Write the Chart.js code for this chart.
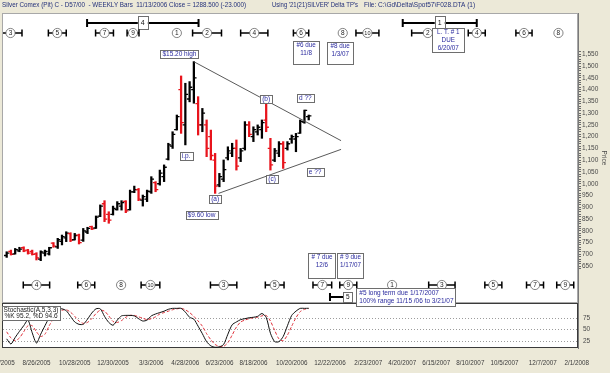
<!DOCTYPE html>
<html>
<head>
<meta charset="utf-8">
<script src="https://cdn.jsdelivr.net/npm/chart.js@4.4.1/dist/chart.umd.min.js"></script>
<style>
  html, body { margin: 0; padding: 0; background: #ece9d8; overflow: hidden; }
  canvas { display: block; }
</style>
</head>
<body>
<canvas id="c" width="610" height="373"></canvas>
<script>
// weekly bars, x = weeks from 8/26/2005
const barWeeks = [-7,-6,-5,-4,-3,-2,-1,0,1,2,3,4,5,6,7,8,9,10,11,12,13,14,15,16,17,18,19,20,21,22,
  23,24,25,26,27,28,29,30,31,32,33,34,35,36,37,38,39,40,41,42,43,44,45,46,47,48,49,50,51,52,
  53,54,55,56,57,58,59,60,61,62,63,64];
const opens = [695,712,702,715,728,718,712,702,680,705, 702,748,732,755,770,788,762,782,760,795,
  818,812,862,915,870,870,890,905,925,890, 965,975,930,935,965,1005,1000,1030,1105,1160,
  1230,1400,1250,1360,1400,1340,1250,1250,1200,1100, 995,1020,1110,1130,1150,1110,1150,1250,1200,1220,
  1230,1270,1150,1100,1130,1170,1150,1190,1190,1215,1262,1285];
const highs = [711,718,725,730,732,721,718,707,715,718, 730,750,768,782,796,792,789,786,810,815,
  820,863,910,928,881,905,924,928,928,973, 990,980,952,973,1030,1009,1058,1080,1172,1221,
  1292,1458,1427,1434,1519,1370,1320,1271,1228,1129, 1044,1101,1157,1172,1186,1150,1264,1264,1242,1250,
  1271,1342,1193,1150,1179,1179,1179,1207,1214,1271,1313,1292];
const lows = [687,697,701,711,711,701,697,676,673,693, 697,730,725,740,754,754,761,744,755,788,
  805,810,860,839,832,867,888,888,877,888, 962,928,905,924,959,966,994,1009,1101,1150,
  1228,1214,1165,1348,1342,1207,1221,1115,1101,959, 987,1009,1101,1115,1058,1094,1143,1200,1179,1207,
  1193,1221,1058,1094,1115,1065,1143,1172,1136,1214,1257,1271];
const closes = [705,700,720,722,715,705,700,685,710,712, 728,735,762,775,790,760,780,750,800,810,
  808,858,905,850,845,895,915,920,885,965, 975,935,945,968,1020,975,1045,1070,1165,1210,
  1285,1260,1380,1410,1450,1250,1300,1150,1120,990, 1030,1060,1140,1150,1075,1140,1250,1210,1230,1240,
  1260,1240,1080,1140,1170,1090,1170,1200,1200,1265,1311.5,1288.5];

// Stochastic(A,5,3,3)
const stochK = [30,19,33,46,58,70,43,21,40,58, 75,85,93,94,90,78,66,61,61,72,
  85,94,94,78,65,59,70,79,80,80, 79,73,68,70,79,83,86,89,93,95,
  95,95,87,76,72,57,41,24,15,12, 13,18,40,60,66,71,73,75,76,78,
  84,76,42,24,24,35,58,80,89,95,95,95.2];
const stochD = [45,32,26,32,45,58,58,45,35,40, 58,73,84,91,92,87,78,68,63,65,
  73,84,91,89,79,67,65,69,76,80, 80,77,74,71,73,77,83,86,89,92,
  94,95,92,86,78,68,57,41,28,18, 14,14,22,38,55,66,70,73,75,76,
  79,80,68,48,30,26,38,57,75,88,93,94.6];
const stochGuides = [75, 50, 25];

// date axis
const dateWeeks = [-8,0,9,18,27,35,43,51,60,69,78,86,94,102,110,119,127];
const dateLabels = ['7/1/2005','8/26/2005','10/28/2005','12/30/2005','3/3/2006','4/28/2006','6/23/2006',
  '8/18/2006','10/20/2006','12/22/2006','2/23/2007','4/20/2007','6/15/2007','8/10/2007','10/5/2007',
  '12/7/2007','2/1/2008'];

// Delta turning points: label, week, half range in weeks
const topCycleNums = ['3','5','7','9','1','2','4','6','8','10','2','4','6','8'];
const topCycleWeeks = [-6.1,4.9,16,22.7,33,40.1,51.2,62.2,72,77.8,92,103.5,114.6,122.7];
const topCycleHalf = [2.7,2.1,2.1,1.4,0,3.4,3.2,1.8,0,2.7,3.8,2,1.9,0];
const botCycleNums = ['4','6','8','10','3','5','7','9','1','3','5','7','9'];
const botCycleWeeks = [0,11.7,19.9,26.8,44,56,67.2,73.3,83.6,95.3,107.4,117.2,124.3];
const botCycleHalf = [3.1,2,0,2.2,3.1,2.2,2.2,2,0,3.1,2,2,2];
const longCycleNums = ['4','1'];
const longCycleFrom = [11.9,86.1];
const longCycleTo = [38.1,103.5];
const ltFiveFrom = 69, ltFiveMid = 73.2;

// triangle
const trendWeeks = [[37,71.6],[42.8,71.6]];
const trendPrices = [[1518.6,1183],[959,1146]];

// wave notes
const noteTexts = ['$15.20 high','i.p.','(a)','$9.60 low','(b)','(c)','d ??','e ??'];
const noteWeeks = [33.6,35.2,42,38.8,54,55.4,63.2,65.5];
const notePrices = [1551,1118,935,867,1360,1020,1364,1050];

const dueBoxes = [
  { lines: ['#6 due','11/8'], week: 63.4, top: 41, w: 26, h: 23 },
  { lines: ['#8 due','1/3/07'], week: 71.4, top: 42, w: 26, h: 22 },
  { lines: ['L. T. # 1','DUE','6/20/07'], week: 96.8, top: 28, w: 32, h: 24 },
  { lines: ['# 7 due','12/6'], week: 67.1, top: 253, w: 27, h: 25 },
  { lines: ['# 9 due','1/17/07'], week: 73.8, top: 253, w: 26, h: 25 }
];
const longNote = ['#5 long term due 1/17/2007', '100% range 11/15 /06 to 3/21/07'];

const FONT = "'Liberation Sans', Arial, sans-serif";
const RED = '#e8141c', BLACK = '#000000', NAVY = '#2a2a9e';
const STOCH_TOP = 105.5;
const font = s => s + 'px ' + FONT;

function box(ctx, x0, y0, w, h) {
  ctx.fillStyle = '#ffffff';
  ctx.fillRect(x0, y0, w, h);
  ctx.strokeStyle = '#6e6e6e';
  ctx.lineWidth = 1;
  ctx.strokeRect(Math.round(x0) + 0.5, Math.round(y0) + 0.5, Math.round(w), Math.round(h));
}

function cycle(ctx, px, py, label, half) {
  ctx.strokeStyle = '#000';
  ctx.lineWidth = 1.5;
  if (half > 0) {
    ctx.beginPath();
    ctx.moveTo(px - half, py); ctx.lineTo(px + half, py);
    ctx.moveTo(px - half, py - 3.5); ctx.lineTo(px - half, py + 3.5);
    ctx.moveTo(px + half, py - 3.5); ctx.lineTo(px + half, py + 3.5);
    ctx.stroke();
  }
  ctx.beginPath();
  ctx.arc(px, py, 4.6, 0, Math.PI * 2);
  ctx.fillStyle = '#fff'; ctx.fill();
  ctx.strokeStyle = '#666'; ctx.lineWidth = 0.8; ctx.stroke();
  ctx.fillStyle = '#222';
  ctx.font = font(label.length > 1 ? 5.5 : 6.5);
  ctx.textAlign = 'center'; ctx.textBaseline = 'middle';
  ctx.fillText(label, px, py + 0.3);
}

const deltaPlugin = {
  id: 'delta',
  beforeDraw(chart) {
    const { ctx, chartArea: a, scales: { y2 } } = chart;
    const split = Math.round(y2.getPixelForValue(STOCH_TOP));
    ctx.save();
    ctx.fillStyle = '#ece9d8';
    ctx.fillRect(0, 0, chart.width, chart.height);
    ctx.fillStyle = '#ffffff';
    ctx.fillRect(a.left, a.top, a.right - a.left, a.bottom - a.top);
    ctx.lineWidth = 1;
    ctx.strokeStyle = '#a8a8a8';
    ctx.strokeRect(a.left + 0.5, a.top + 0.5, a.right - a.left - 1, split - a.top - 1);
    ctx.strokeStyle = '#3a3a3a';
    ctx.strokeRect(a.left + 0.5, split + 0.5, a.right - a.left - 1, a.bottom - split - 1);
    ctx.strokeStyle = '#9c9c9c';
    ctx.setLineDash([1, 2]);
    stochGuides.forEach(g => {
      const py = Math.round(y2.getPixelForValue(g)) + 0.5;
      ctx.beginPath(); ctx.moveTo(a.left + 1, py); ctx.lineTo(a.right - 1, py); ctx.stroke();
    });
    ctx.restore();
  },
  afterDatasetsDraw(chart) {
    const { ctx, chartArea: a, scales: { x, y, y2 } } = chart;
    const split = Math.round(y2.getPixelForValue(STOCH_TOP));
    ctx.save();

    // open / close ticks on the weekly bars
    ctx.lineWidth = 1.3;
    chart.getDatasetMeta(0).data.forEach((el, i) => {
      const yo = y.getPixelForValue(opens[i]), yc = y.getPixelForValue(closes[i]);
      ctx.strokeStyle = closes[i] < opens[i] ? RED : BLACK;
      ctx.beginPath();
      ctx.moveTo(el.x - 2.7, yo); ctx.lineTo(el.x, yo);
      ctx.moveTo(el.x, yc); ctx.lineTo(el.x + 2.7, yc);
      ctx.stroke();
    });

    // triangle
    ctx.strokeStyle = '#5a5a5a'; ctx.lineWidth = 1;
    trendWeeks.forEach((tw, i) => {
      ctx.beginPath();
      ctx.moveTo(x.getPixelForValue(tw[0]), y.getPixelForValue(trendPrices[i][0]));
      ctx.lineTo(x.getPixelForValue(tw[1]), y.getPixelForValue(trendPrices[i][1]));
      ctx.stroke();
    });

    // wave notes
    ctx.font = font(6.5);
    ctx.textAlign = 'center'; ctx.textBaseline = 'middle';
    noteTexts.forEach((t, i) => {
      const cx = x.getPixelForValue(noteWeeks[i]), cy = y.getPixelForValue(notePrices[i]);
      const w = ctx.measureText(t).width + 4;
      box(ctx, cx - w / 2, cy - 4, w, 8);
      ctx.fillStyle = NAVY; ctx.font = font(6.5);
      ctx.fillText(t, cx, cy + 0.3);
    });

    // turning point rows, clipped to the price panel
    ctx.save();
    ctx.beginPath();
    ctx.rect(a.left + 1, a.top + 1, a.right - a.left - 2, split - a.top - 1);
    ctx.clip();
    const pxw = x.getPixelForValue(1) - x.getPixelForValue(0);
    longCycleNums.forEach((n, i) => {
      const x0 = x.getPixelForValue(longCycleFrom[i]), x1 = x.getPixelForValue(longCycleTo[i]);
      const py = a.top + 10;
      ctx.strokeStyle = '#000'; ctx.lineWidth = 2;
      ctx.beginPath();
      ctx.moveTo(x0, py); ctx.lineTo(x1, py);
      ctx.moveTo(x0, py - 4); ctx.lineTo(x0, py + 4);
      ctx.moveTo(x1, py - 4); ctx.lineTo(x1, py + 4);
      ctx.stroke();
      const cx = (x0 + x1) / 2;
      box(ctx, cx - 5, py - 7, 10, 13);
      ctx.fillStyle = '#111'; ctx.font = font(7); ctx.textAlign = 'center'; ctx.textBaseline = 'middle';
      ctx.fillText(n, cx, py);
    });
    topCycleNums.forEach((n, i) => cycle(ctx, x.getPixelForValue(topCycleWeeks[i]), a.top + 20, n, topCycleHalf[i] * pxw));
    botCycleNums.forEach((n, i) => cycle(ctx, x.getPixelForValue(botCycleWeeks[i]), split - 18, n, botCycleHalf[i] * pxw));
    ctx.restore();

    // due boxes
    dueBoxes.forEach(b => {
      const cx = x.getPixelForValue(b.week);
      box(ctx, cx - b.w / 2, b.top, b.w, b.h);
      ctx.fillStyle = NAVY; ctx.font = font(6.3);
      ctx.textAlign = 'center'; ctx.textBaseline = 'middle';
      b.lines.forEach((l, j) => ctx.fillText(l, cx, b.top + 4.5 + j * 8));
    });

    // long term #5
    const f0 = x.getPixelForValue(ltFiveFrom), f1 = x.getPixelForValue(ltFiveMid);
    const fy = split - 6;
    ctx.strokeStyle = '#000'; ctx.lineWidth = 2;
    ctx.beginPath();
    ctx.moveTo(f0, fy); ctx.lineTo(f1, fy);
    ctx.moveTo(f0, fy - 4); ctx.lineTo(f0, fy + 4);
    ctx.stroke();
    box(ctx, f1 - 4.5, fy - 5, 9, 10);
    ctx.fillStyle = '#111'; ctx.font = font(6.5); ctx.textAlign = 'center'; ctx.textBaseline = 'middle';
    ctx.fillText('5', f1, fy + 0.3);
    const lx = f1 + 8.5;
    box(ctx, lx, split - 15, 99, 18);
    ctx.fillStyle = NAVY; ctx.font = font(6.5); ctx.textAlign = 'left';
    ctx.fillText(longNote[0], lx + 3, split - 10);
    ctx.fillText(longNote[1], lx + 3, split - 2);

    // stochastic legend
    box(ctx, a.left, split + 3, 58, 14);
    ctx.fillStyle = '#222'; ctx.font = font(6.5); ctx.textAlign = 'center';
    ctx.fillText('Stochastic(A,5,3,3)', a.left + 29, split + 7, 55);
    ctx.fillText('%K ' + stochK[stochK.length - 1].toFixed(1) + ', %D ' + stochD[stochD.length - 1].toFixed(1), a.left + 29, split + 13.5, 55);
    ctx.restore();
  },
  afterDraw(chart) {
    const { ctx, chartArea: a, scales: { x, y2 } } = chart;
    ctx.save();
    ctx.textBaseline = 'middle';
    ctx.font = font(6.5);
    ctx.fillStyle = '#23307a';
    ctx.textAlign = 'left';
    ctx.fillText('Silver Comex (Pit) C - D57/00  - WEEKLY Bars  11/13/2006 Close = 1288.500 (-23.000)', 2, 5.5, 244);
    ctx.fillText("Using '21(21)SILVER' Delta TP's", 272, 5.5, 86);
    ctx.fillText('File: C:\\Gd\\Delta\\Spot57\\F028.DTA (1)', 364, 5.5, 112);

    ctx.fillStyle = '#3c3c3c';
    ctx.textAlign = 'center';
    ctx.font = font(6.3);
    dateWeeks.forEach((w, i) => ctx.fillText(dateLabels[i], x.getPixelForValue(w), 363));

    ctx.fillStyle = '#4a4a4a';
    ctx.textAlign = 'left';
    ctx.font = font(6.5);
    stochGuides.forEach(g => ctx.fillText(String(g), a.right + 5, y2.getPixelForValue(g)));

    ctx.translate(604, 158);
    ctx.rotate(Math.PI / 2);
    ctx.textAlign = 'center';
    ctx.fillText('Price', 0, 0);
    ctx.restore();
  }
};

new Chart(document.getElementById('c'), {
  type: 'bar',
  data: {
    datasets: [
      {
        type: 'bar', label: 'Silver weekly',
        data: barWeeks.map((w, i) => ({ x: w, y: [lows[i], highs[i]] })),
        backgroundColor: c => closes[c.dataIndex] < opens[c.dataIndex] ? RED : BLACK,
        barThickness: 1.6, yAxisID: 'y'
      },
      {
        type: 'line', label: '%K',
        data: barWeeks.map((w, i) => ({ x: w, y: stochK[i] })),
        yAxisID: 'y2', borderColor: '#111', borderWidth: 1, pointRadius: 0, tension: 0.25
      },
      {
        type: 'line', label: '%D',
        data: barWeeks.map((w, i) => ({ x: w, y: stochD[i] })),
        yAxisID: 'y2', borderColor: '#e0303a', borderWidth: 1, borderDash: [3, 2], pointRadius: 0, tension: 0.25
      }
    ]
  },
  options: {
    responsive: false, animation: false, events: [],
    layout: { padding: { left: 2, top: 13, right: 0, bottom: 25 } },
    plugins: { legend: { display: false }, tooltip: { enabled: false } },
    scales: {
      x: { type: 'linear', display: false, min: -8.1, max: 127.3, offset: false },
      y: {
        type: 'linear', position: 'right', min: 302, max: 1725.5,
        afterFit: s => { s.width = 32; },
        border: { display: true, color: '#7a7a7a' },
        grid: {
          drawOnChartArea: false, tickLength: 3,
          tickColor: c => (c.tick && c.tick.value >= 640 && c.tick.value <= 1560) ? '#6a6a6a' : 'rgba(0,0,0,0)'
        },
        ticks: {
          stepSize: 10, autoSkip: false, maxTicksLimit: 1000, padding: 1,
          color: '#4a4a4a', font: { size: 6.5, family: FONT },
          callback: v => (v % 50 === 0 && v >= 650 && v <= 1550) ? v.toLocaleString('en-US') : ''
        }
      },
      y2: { type: 'linear', display: false, min: 10.5, max: 724.7 }
    }
  },
  plugins: [deltaPlugin]
});
</script>
</body>
</html>
